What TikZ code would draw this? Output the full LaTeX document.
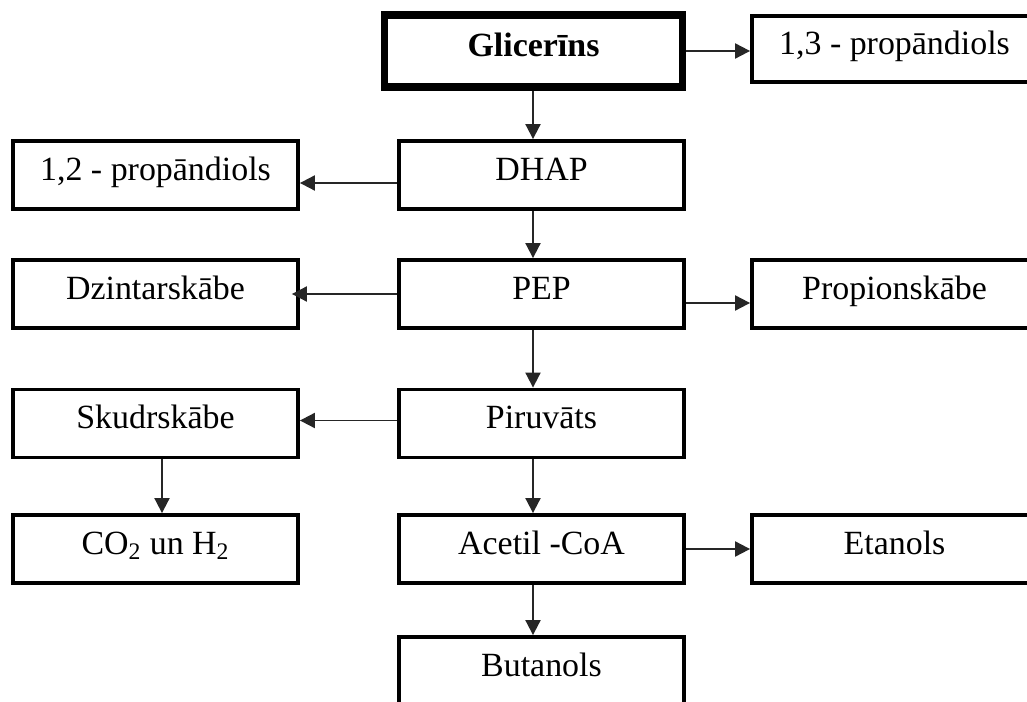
\documentclass[tikz,border=0pt]{standalone}
\usepackage{fontspec}
\setmainfont{Liberation Serif}
\usetikzlibrary{arrows.meta}
\def\colwidth{5.7cm}
\def\rowheight{1.36cm}

\begin{document}
\begin{tikzpicture}[x=0.02cm, y=-0.02cm,
    box/.style={draw, line width=2.2pt, minimum width=\colwidth, minimum height=\rowheight,
        inner sep=0pt, text height=0.75em, text depth=0.15em, font=\fontsize{19.3}{23}\selectfont},
    arr/.style={-{Triangle[length=0.3cm,width=0.3cm]}, line width=1.1pt, draw=black!85}]
    \clip (0,0) rectangle (1027,702);
    \fill[white] (0,0) rectangle (1027,702);
    % centre column
    \node[box, line width=4pt, minimum width=5.98cm, minimum height=1.44cm] (glic) at (533.5,51) {\textbf{Glicerīns}};
    \node[box] (dhap) at (541.5,175) {DHAP};
    \node[box] (pep) at (541.5,294) {PEP};
    \node[box] (piru) at (541.5,423.5) {Piruvāts};
    \node[box] (acetil) at (541.5,549) {Acetil -CoA};
    \node[box] (butanols) at (541.5,671) {Butanols};
    % left column
    \node[box] (prop12) at (155.5,175) {1,2 - propāndiols};
    \node[box] (dzintar) at (155.5,294) {Dzintarskābe};
    \node[box] (skudr) at (155.5,423.5) {Skudrskābe};
    \node[box] (gases) at (155.5,549) {CO\textsubscript{2} un H\textsubscript{2}};
    % right column
    \node[box, minimum height=1.32cm] (prop13) at (894.5,49) {1,3 - propāndiols};
    \node[box] (propion) at (894.5,294) {Propionskābe};
    \node[box] (etanols) at (894.5,549) {Etanols};
    \coordinate (ax) at (533,0);
    \coordinate (lx) at (162,0);

    \draw[arr] (glic.south -| ax) -- (ax |- dhap.north);
    \draw[arr] (ax |- dhap.south) -- (ax |- pep.north);
    \draw[arr] (ax |- pep.south) -- (ax |- piru.north);
    \draw[arr] (ax |- piru.south) -- (ax |- acetil.north);
    \draw[arr] (ax |- acetil.south) -- (ax |- butanols.north);
    \draw[arr] (lx |- skudr.south) -- (lx |- gases.north);

    \draw[arr] (glic.east) -- (glic.east -| prop13.west);
    \draw[arr] ([yshift=-0.16cm]dhap.west) -- ([yshift=-0.16cm]dhap.west -| prop12.east);
    \draw[arr] (pep.west) -- ([xshift=-0.16cm]pep.west -| dzintar.east);
    \draw[arr] ([yshift=-0.18cm]pep.east) -- ([yshift=-0.18cm]pep.east -| propion.west);
    \draw[arr] ([yshift=0.06cm]piru.west) -- ([yshift=0.06cm]piru.west -| skudr.east);
    \draw[arr] (acetil.east) -- (acetil.east -| etanols.west);
\end{tikzpicture}
\end{document}
